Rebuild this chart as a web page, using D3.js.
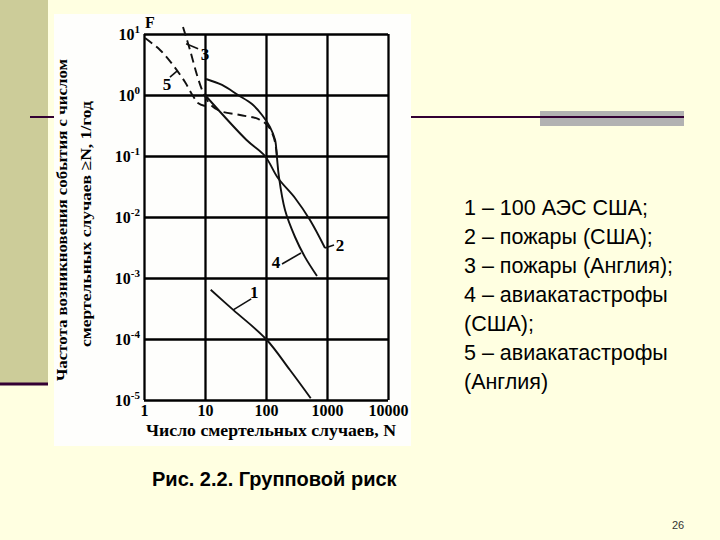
<!DOCTYPE html>
<html>
<head>
	<meta charset="utf-8">
	<title>Групповой риск</title>
	<script src="https://d3js.org/d3.v7.min.js"></script>
	<style>
		body { margin: 0; }
		svg { display: block; }
	</style>
</head>
<body>
	<svg id="slide" width="720" height="540"></svg>

	<script type="text/javascript">
// оси
var xTicks = [1, 10, 100, 1000, 10000],
    xTickLabels = ['1', '10', '100', '1000', '10000'],
    yTicks = [1e-5, 1e-4, 1e-3, 1e-2, 1e-1, 1, 10],
    yExponents = ['-5', '-4', '-3', '-2', '-1', '0', '1'];

// кривые F(N)
// 1 - 100 АЭС США
var s1N = [12.4, 29, 100, 247, 541],
    s1F = [6.4e-4, 3.0e-4, 1.0e-4, 3.1e-5, 1.07e-5];
// 2 - пожары (США)
var s2N = [10, 48, 96, 157, 299, 526, 927],
    s2F = [1.0, 0.183, 0.1, 0.0436, 0.0205, 0.0089, 0.0031];
// 3 - пожары (Англия)
var s3N = [4.36, 5.68, 7.39, 9.27, 12.1, 17.6, 37.5, 74, 108, 135, 151],
    s3F = [13, 5.47, 2.13, 1.12, 0.71, 0.547, 0.47, 0.405, 0.31, 0.197, 0.104];
// 4 - авиакатастрофы (США)
var s4N = [10.4, 19, 34.8, 58.9, 86, 116, 141, 151, 163, 205, 299, 436, 685],
    s4F = [1.83, 1.46, 1.0, 0.71, 0.47, 0.30, 0.183, 0.096, 0.0453, 0.013, 0.0047, 0.0022, 0.00108];
// 5 - авиакатастрофы (Англия)
var s5N = [1.04, 1.83, 2.99, 4.7, 6.36, 7.67, 10],
    s5F = [8.6, 5.47, 3.1, 1.63, 0.96, 0.74, 0.66];

var legendLines = ['1 – 100 АЭС США;', '2 – пожары (США);', '3 – пожары (Англия);',
                   '4 – авиакатастрофы', '(США);', '5 – авиакатастрофы', '(Англия)'];

var svg = d3.select('#slide');

//  фон слайда
svg.append('rect').attr('width', 720).attr('height', 540).attr('fill', '#ffffe1');
svg.append('rect').attr('width', 48).attr('height', 383).attr('fill', '#cccc99');
svg.append('line').attr('x1', 0).attr('x2', 48).attr('y1', 384).attr('y2', 384)
   .attr('stroke', '#330033').attr('stroke-width', 3);
svg.append('rect').attr('x', 540).attr('y', 111).attr('width', 144).attr('height', 15).attr('fill', '#b2b2b2');
svg.append('line').attr('x1', 30).attr('x2', 684).attr('y1', 117).attr('y2', 117)
   .attr('stroke', '#330033').attr('stroke-width', 2);

//  белая подложка рисунка
svg.append('rect').attr('x', 54).attr('y', 14).attr('width', 357).attr('height', 432).attr('fill', '#fefefc');

var x = d3.scaleLog().domain([1, 10000]).range([144, 388]),
    y = d3.scaleLog().domain([1e-5, 10]).range([400, 34]);

var serif = '"Liberation Serif", "Times New Roman", serif',
    sans = '"Liberation Sans", Arial, sans-serif';

//  сетка и подписи по X
var gx = svg.append('g')
    .attr('transform', 'translate(0,' + y(1e-5) + ')')
    .call(d3.axisBottom(x).tickValues(xTicks)
        .tickSize(-(y(1e-5) - y(10))).tickSizeOuter(0).tickPadding(5)
        .tickFormat(function(d, i) { return xTickLabels[i]; }));
gx.select('.domain').remove();
gx.selectAll('.tick line').attr('stroke', '#000').attr('stroke-width', 2.3);
gx.selectAll('.tick text').attr('fill', '#000')
  .style('font', 'bold 16px ' + serif);

//  сетка и подписи по Y
var gy = svg.append('g')
    .attr('transform', 'translate(' + x(1) + ',0)')
    .call(d3.axisLeft(y).tickValues(yTicks)
        .tickSize(-(x(10000) - x(1))).tickSizeOuter(0).tickFormat(''));
gy.select('.domain').remove();
gy.selectAll('.tick line').attr('stroke', '#000').attr('stroke-width', 2.3);
gy.selectAll('.tick').each(function(d, i) {
    var t = d3.select(this).append('text')
        .attr('x', -4).attr('dy', 5)
        .attr('text-anchor', 'end').attr('fill', '#000')
        .style('font', 'bold 16px ' + serif);
    t.append('tspan').text('10');
    t.append('tspan').attr('dy', -7).style('font-size', '11px').text(yExponents[i]);
});

svg.append('text').attr('x', x(1) + 1).attr('y', y(10) - 6)
   .style('font', 'bold 16px ' + serif).text('F');

//  подписи осей
svg.append('text')
   .attr('transform', 'translate(67,220) rotate(-90)')
   .attr('text-anchor', 'middle')
   .attr('textLength', 322).attr('lengthAdjust', 'spacingAndGlyphs')
   .style('font', 'bold 15.5px ' + serif)
   .text('Частота возникновения события с числом');
svg.append('text')
   .attr('transform', 'translate(91,224) rotate(-90)')
   .attr('text-anchor', 'middle')
   .attr('textLength', 246).attr('lengthAdjust', 'spacingAndGlyphs')
   .style('font', 'bold 15.5px ' + serif)
   .text('смертельных случаев ≥N, 1/год');
svg.append('text')
   .attr('x', 271).attr('y', 436)
   .attr('text-anchor', 'middle')
   .attr('textLength', 250).attr('lengthAdjust', 'spacingAndGlyphs')
   .style('font', 'bold 16.5px ' + serif)
   .text('Число смертельных случаев, N');

//  кривые
var lineCreator = d3.line()
    .x(function(d) { return x(d[0]); })
    .y(function(d) { return y(d[1]); })
    .curve(d3.curveCatmullRom.alpha(0.5));

var series = [
    { n: s1N, f: s1F, dash: null },
    { n: s2N, f: s2F, dash: null },
    { n: s3N, f: s3F, dash: '9,5' },
    { n: s4N, f: s4F, dash: null },
    { n: s5N, f: s5F, dash: '9,5' }
];
series.forEach(function(s) {
    svg.append('path')
       .attr('d', lineCreator(d3.zip(s.n, s.f)))
       .attr('fill', 'none')
       .attr('stroke', '#111')
       .attr('stroke-width', 1.9)
       .attr('stroke-dasharray', s.dash);
});

//  номера кривых с выносками (точка на кривой, смещения в пикселях)
var labels = [
    { txt: '1', n: 29,   f: 3.0e-4,  lx: 18,  ly: -11, tx: 21,  ty: -12 },
    { txt: '2', n: 927,  f: 0.0031,  lx: 9,   ly: -3,  tx: 15,  ty: 3 },
    { txt: '3', n: 4.9,  f: 6.9,     lx: 12,  ly: 5,   tx: 19,  ty: 16 },
    { txt: '4', n: 375,  f: 0.00257, lx: -19, ly: 11,  tx: -25, ty: 15 },
    { txt: '5', n: 3.47, f: 2.47,    lx: -7,  ly: 6,   tx: -10, ty: 19 }
];
labels.forEach(function(l) {
    var px = x(l.n), py = y(l.f);
    svg.append('line')
       .attr('x1', px).attr('y1', py).attr('x2', px + l.lx).attr('y2', py + l.ly)
       .attr('stroke', '#111').attr('stroke-width', 1.6);
    svg.append('text')
       .attr('x', px + l.tx).attr('y', py + l.ty)
       .attr('text-anchor', 'middle')
       .style('font', 'bold 17px ' + serif)
       .text(l.txt);
});

//  легенда
svg.append('g').selectAll('text')
   .data(legendLines).enter()
   .append('text')
   .attr('x', 464)
   .attr('y', function(d, i) { return 215 + i * 29; })
   .style('font', '21.5px ' + sans)
   .attr('fill', '#000')
   .text(function(d) { return d; });

svg.append('text').attr('x', 152).attr('y', 486)
   .style('font', 'bold 20px ' + sans).text('Рис. 2.2. Групповой риск');

svg.append('text').attr('x', 672).attr('y', 529)
   .style('font', '11px ' + sans).attr('fill', '#333').text('26');
</script>
</body>
</html>
